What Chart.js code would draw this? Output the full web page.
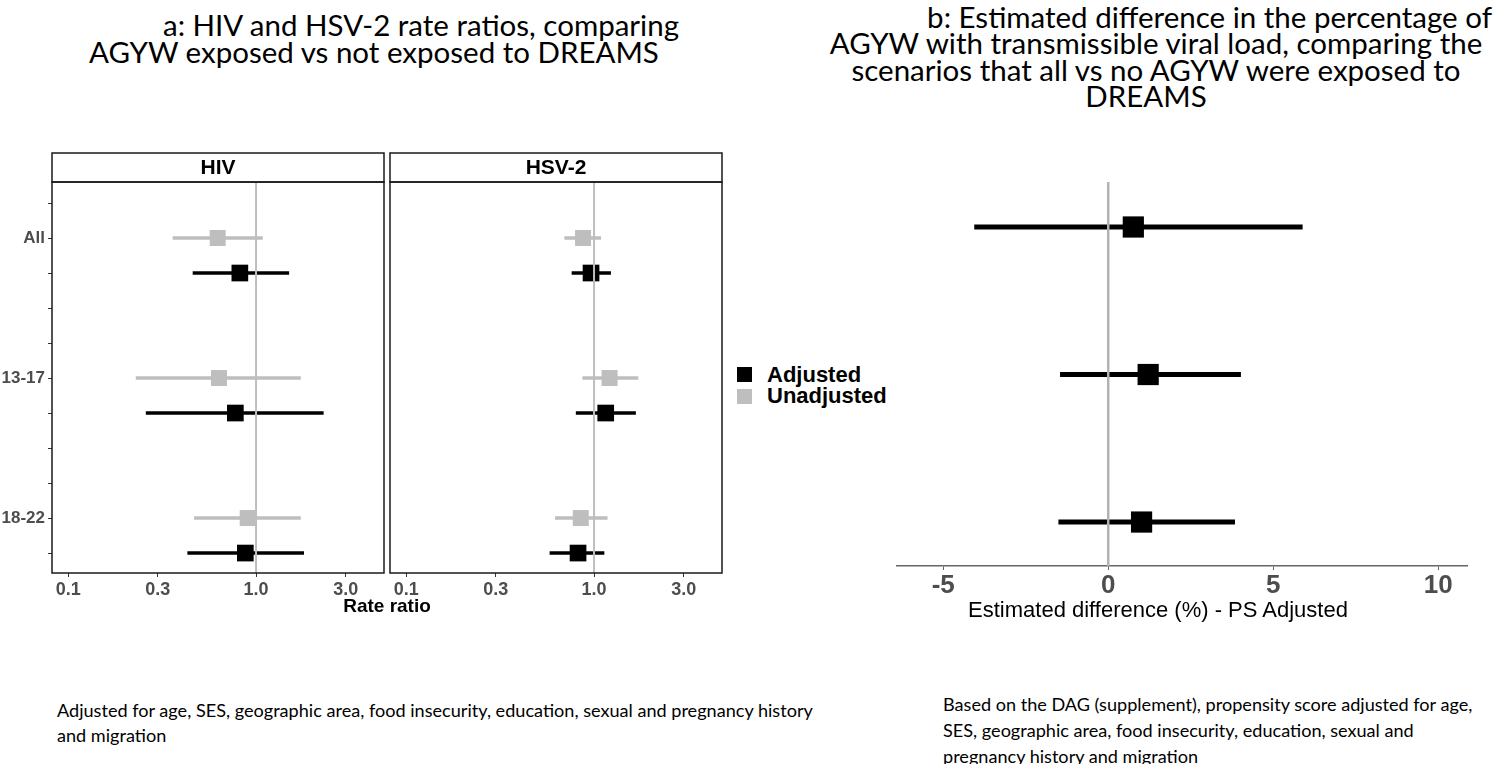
<!DOCTYPE html>
<html>
<head>
<meta charset="utf-8">
<script src="https://cdn.jsdelivr.net/npm/chart.js@4.4.1/dist/chart.umd.min.js"></script>
<style>
  body { margin: 0; background: #fff; width: 1500px; height: 764px; overflow: hidden; position: relative; font-family: 'Liberation Sans', Arial, sans-serif; }
  canvas { position: absolute; }
  .txt { position: absolute; white-space: nowrap; color: #000; }
  .title { font-family: Lato, 'Open Sans', sans-serif; font-size: 29.5px; line-height: 27px; }
  .tb { font-family: Lato, 'Open Sans', sans-serif; font-size: 29.5px; line-height: 26px; width: 800px; text-align: center; }
  .caption { font-family: Lato, 'Open Sans', sans-serif; font-size: 18.1px; line-height: 25px; }
  .swatch { position: absolute; width: 15px; height: 15px; }
</style>
</head>
<body>

<div class="txt title" style="left:163px; top:11px;">a: HIV and HSV-2 rate ratios, comparing</div>
<div class="txt title" style="left:89px; top:38px;">AGYW exposed vs not exposed to DREAMS</div>

<div class="txt tb" style="left:792px; top:4px; width:700px; text-align:right;">b: Estimated difference in the percentage of</div>
<div class="txt tb" style="left:756px; top:30px;">AGYW with transmissible viral load, comparing the</div>
<div class="txt tb" style="left:756px; top:57px;">scenarios that all vs no AGYW were exposed to</div>
<div class="txt tb" style="left:746px; top:83px;">DREAMS</div>

<canvas id="hiv" width="386" height="480" style="left:0px; top:150px;"></canvas>
<canvas id="hsv" width="336" height="480" style="left:388px; top:150px;"></canvas>
<canvas id="diff" width="580" height="480" style="left:890px; top:150px;"></canvas>

<div class="txt" style="left:287px; top:595px; width:200px; text-align:center; font-weight:bold; font-size:19px;">Rate ratio</div>
<div class="txt" style="left:958px; top:597px; width:400px; text-align:center; font-size:22px;">Estimated difference (%) - PS Adjusted</div>

<div class="swatch" style="left:737px; top:367px; background:#000;"></div>
<div class="swatch" style="left:737px; top:389px; background:#bebebe;"></div>
<div class="txt" style="left:767px; top:362px; font-weight:bold; font-size:22px; line-height:26px;">Adjusted</div>
<div class="txt" style="left:767px; top:383px; font-weight:bold; font-size:22px; line-height:26px;">Unadjusted</div>

<div class="txt caption" style="left:57px; top:698px;">
  Adjusted for age, SES, geographic area, food insecurity, education, sexual and pregnancy history<br>
  and migration
</div>
<div class="txt caption" style="left:943px; top:691px; line-height:26px;">
  Based on the DAG (supplement), propensity score adjusted for age,<br>
  SES, geographic area, food insecurity, education, sexual and<br>
  pregnancy history and migration
</div>

<script>
// data
const groups = ['All', '13-17', '18-22'];

const hivUnadj   = [0.625, 0.635, 0.903];
const hivUnadjLo = [0.36, 0.229, 0.468];
const hivUnadjHi = [1.085, 1.73, 1.73];
const hivAdj     = [0.82, 0.776, 0.877];
const hivAdjLo   = [0.46, 0.259, 0.431];
const hivAdjHi   = [1.50, 2.29, 1.80];

const hsvUnadj   = [0.874, 1.21, 0.85];
const hsvUnadjLo = [0.695, 0.867, 0.62];
const hsvUnadjHi = [1.09, 1.72, 1.18];
const hsvAdj     = [0.964, 1.154, 0.822];
const hsvAdjLo   = [0.76, 0.80, 0.58];
const hsvAdjHi   = [1.23, 1.67, 1.135];

const diffEst = [0.76, 1.21, 1.01];
const diffLo  = [-4.06, -1.46, -1.51];
const diffHi  = [5.89, 4.02, 3.84];

const rrTicks = [0.1, 0.3, 1, 3];
const rrTickLabels = ['0.1', '0.3', '1.0', '3.0'];
const diffTicks = [-5, 0, 5, 10];

const GREY = '#bebebe';
const BLACK = '#000000';
const FONT = "'Liberation Sans', Arial, sans-serif";

// error bars + squares for one series
function forestSets(est, lo, hi, rowOf, color, lineW, radius) {
  const sets = [];
  est.forEach((v, i) => {
    const y = rowOf(i);
    sets.push({
      data: [{ x: lo[i], y: y }, { x: hi[i], y: y }],
      showLine: true,
      borderColor: color,
      borderWidth: lineW,
      borderCapStyle: 'butt',
      pointRadius: 0,
      pointHoverRadius: 0
    });
  });
  sets.push({
    data: est.map((v, i) => ({ x: v, y: rowOf(i) })),
    pointStyle: 'rect',
    pointRadius: radius,
    pointHoverRadius: radius,
    backgroundColor: color,
    borderColor: color,
    borderWidth: 0
  });
  return sets;
}

// axis boxes with fixed size
function fixHeight(h) {
  return s => { s.height = h; };
}
function fixWidth(w) {
  return s => { s.width = w; };
}

const facetPlugin = {
  id: 'facet',
  afterDatasetsDraw(chart, args, opts) {
    const { ctx, chartArea: a, scales } = chart;
    if (opts.refValue !== undefined) {
      const x = scales.x.getPixelForValue(opts.refValue);
      ctx.save();
      ctx.strokeStyle = opts.refColor || GREY;
      ctx.lineWidth = opts.refWidth || 2;
      ctx.beginPath();
      ctx.moveTo(x, a.top);
      ctx.lineTo(x, a.bottom);
      ctx.stroke();
      ctx.restore();
    }
    if (opts.strip) {
      ctx.save();
      ctx.strokeStyle = '#1a1a1a';
      ctx.lineWidth = 1.5;
      ctx.strokeRect(a.left, a.top, a.right - a.left, a.bottom - a.top);
      ctx.strokeRect(a.left, a.top - 29, a.right - a.left, 29);
      ctx.font = 'bold 21px ' + FONT;
      ctx.fillStyle = '#000';
      ctx.textAlign = 'center';
      ctx.textBaseline = 'middle';
      ctx.fillText(opts.strip, (a.left + a.right) / 2, a.top - 14);
      ctx.restore();
    }
  }
};

function rrChart(id, strip, unadj, unadjLo, unadjHi, adj, adjLo, adjHi, showY) {
  const rowU = i => 4 * i + 1;
  const rowA = i => 4 * i + 2;
  const datasets = [
    ...forestSets(unadj, unadjLo, unadjHi, rowU, GREY, 3.5, 11.3),
    ...forestSets(adj, adjLo, adjHi, rowA, BLACK, 3.5, 11.8)
  ];
  const yScale = {
    type: 'linear',
    display: showY,
    reverse: true,
    min: -0.6,
    max: 10.57
  };
  if (showY) {
    Object.assign(yScale, {
      afterBuildTicks: s => { s.ticks = Array.from({ length: 11 }, (_, i) => ({ value: i })); },
      afterFit: fixWidth(52),
      ticks: {
        autoSkip: false,
        padding: 3,
        color: '#4d4d4d',
        font: { family: FONT, size: 17, weight: 'bold' },
        callback: v => (v % 4 === 1 ? groups[(v - 1) / 4] : '')
      },
      grid: { drawOnChartArea: false, drawTicks: true, tickLength: 4, color: '#333' },
      border: { display: false }
    });
  }
  return new Chart(document.getElementById(id), {
    type: 'scatter',
    data: { datasets },
    options: {
      responsive: false,
      animation: false,
      devicePixelRatio: 1,
      layout: { autoPadding: false, padding: { top: 32, right: 2, left: showY ? 0 : 2, bottom: 0 } },
      plugins: {
        legend: { display: false },
        tooltip: { enabled: false },
        facet: { strip: strip, refValue: 1, refColor: GREY, refWidth: 2 }
      },
      scales: {
        x: {
          type: 'logarithmic',
          min: 0.082,
          max: 4.8,
          afterBuildTicks: s => { s.ticks = rrTicks.map(v => ({ value: v })); },
          afterFit: fixHeight(57),
          ticks: {
            autoSkip: false,
            maxRotation: 0,
            padding: 2,
            color: '#4d4d4d',
            font: { family: FONT, size: 18, weight: 'bold' },
            callback: (v, i) => rrTickLabels[i]
          },
          grid: { drawOnChartArea: false, drawTicks: true, tickLength: 4, color: '#333' },
          border: { display: false }
        },
        y: yScale
      }
    },
    plugins: [facetPlugin]
  });
}

rrChart('hiv', 'HIV', hivUnadj, hivUnadjLo, hivUnadjHi, hivAdj, hivAdjLo, hivAdjHi, true);
rrChart('hsv', 'HSV-2', hsvUnadj, hsvUnadjLo, hsvUnadjHi, hsvAdj, hsvAdjLo, hsvAdjHi, false);

new Chart(document.getElementById('diff'), {
  type: 'scatter',
  data: { datasets: forestSets(diffEst, diffLo, diffHi, i => i + 1, BLACK, 5, 15) },
  options: {
    responsive: false,
    animation: false,
    devicePixelRatio: 1,
    layout: { autoPadding: false, padding: { top: 32, right: 3, left: 7, bottom: 0 } },
    plugins: {
      legend: { display: false },
      tooltip: { enabled: false },
      facet: { refValue: 0, refColor: '#b3b3b3', refWidth: 2.5 }
    },
    scales: {
      x: {
        type: 'linear',
        min: -6.4,
        max: 10.87,
        afterBuildTicks: s => { s.ticks = diffTicks.map(v => ({ value: v })); },
        afterFit: fixHeight(64),
        ticks: {
          autoSkip: false,
          maxRotation: 0,
          padding: 0,
          color: '#4d4d4d',
          font: { family: FONT, size: 26, weight: 'bold' },
          callback: v => String(v)
        },
        grid: { drawOnChartArea: false, drawTicks: true, tickLength: 4, color: '#666' },
        border: { display: true, color: '#666', width: 1.5 }
      },
      y: {
        type: 'linear',
        display: false,
        reverse: true,
        min: 0.695,
        max: 3.298
      }
    }
  },
  plugins: [facetPlugin]
});
</script>
</body>
</html>
